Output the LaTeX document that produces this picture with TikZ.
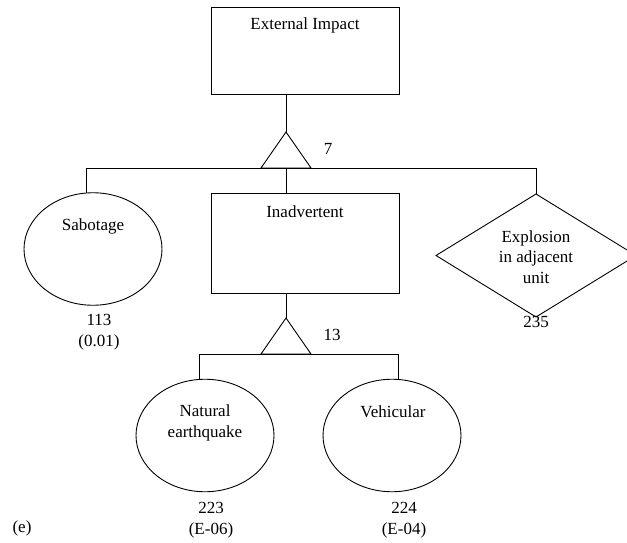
\documentclass[tikz,border=0pt]{standalone}
\usepackage{fontspec}
\setmainfont{Liberation Serif}
\usetikzlibrary{shapes.geometric}
\begin{document}
\begin{tikzpicture}[x=1pt,y=-1pt,
  line width=0.9pt,
  every node/.style={font=\fontsize{17}{20.5}\selectfont, inner sep=0pt, outer sep=0pt},
  eventbox/.style={draw, rectangle, minimum width=188pt},
  basicevent/.style={draw, ellipse, minimum width=138pt, minimum height=112.5pt},
  undevevent/.style={draw, diamond, minimum width=200pt, minimum height=123pt},
  txt/.style={anchor=base, align=center},
  gate/.style={draw, line join=miter},
]
\useasboundingbox (0,0) rectangle (627,543);
\clip (0,0) rectangle (627,543);

% events (multi-line labels are placed by the baseline of their last line)
\node[eventbox, minimum height=87pt] (top) at (305,50.5) {};
\node[txt] (toplbl) at (305,30) {External Impact};
\node[eventbox, minimum height=100pt] (inad) at (305,243) {};
\node[txt] (inadlbl) at (305,217) {Inadvertent};
\node[basicevent] (sab) at (93,249) {};
\node[txt] (sablbl) at (93,230) {Sabotage};
\node[txt] (sabnum) at (99,346) {113\\(0.01)};
\node[undevevent] (expl) at (536,255.5) {};
\node[txt] (expllbl) at (536,283) {Explosion\\in adjacent\\unit};
\node[txt] (explnum) at (536,327) {235};
\node[basicevent] (nat) at (205,435.5) {};
\node[txt] (natlbl) at (205,437) {Natural\\earthquake};
\node[txt] (natnum) at (211,534) {223\\(E-06)};
\node[basicevent] (veh) at (392,435.5) {};
\node[txt] (vehlbl) at (393,417) {Vehicular};
\node[txt] (vehnum) at (404,534) {224\\(E-04)};
\node[txt] (g1num) at (328,154) {7};
\node[txt] (g2num) at (332,340) {13};
\node[txt] (tag) at (22,532) {(e)};

% gates
\coordinate (g1) at (286,132);
\coordinate (g2) at (286,318);
\draw[gate] (g1) -- ++(-25,36) -- ++(50,0) -- cycle;
\draw[gate] (g2) -- ++(-25,36) -- ++(50,0) -- cycle;

% connectors
\coordinate (b1l) at (86,168);
\coordinate (b1r) at (536,168);
\coordinate (b2l) at (199,354);
\coordinate (b2r) at (398,354);
\draw (g1) -- (g1 |- top.south);
\draw (b1l) -- (b1r);
\draw (b1l) -- (b1l |- sab.north);
\draw (g1 |- b1l) -- (g1 |- inad.north);
\draw (b1r) -- (expl.north);
\draw (g2) -- (g2 |- inad.south);
\draw (b2l) -- (b2r);
\draw (b2l) -- (b2l |- nat.north);
\draw (b2r) -- (b2r |- veh.north);
\end{tikzpicture}
\end{document}
